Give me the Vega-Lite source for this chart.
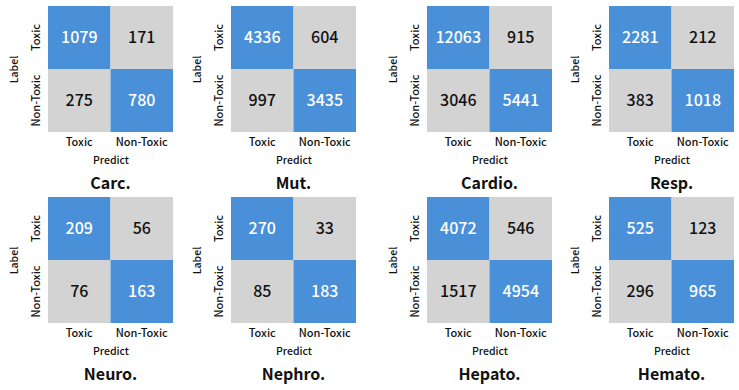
{
  "$schema": "https://vega.github.io/schema/vega-lite/v6.json",
  "padding": {"left": 9, "top": 6, "right": 4, "bottom": 4},
  "background": "white",
  "datasets": {
    "cm": [
      {"panel": "Carc.", "label": "Toxic", "predict": "Toxic", "value": 1079},
      {"panel": "Carc.", "label": "Toxic", "predict": "Non-Toxic", "value": 171},
      {"panel": "Carc.", "label": "Non-Toxic", "predict": "Toxic", "value": 275},
      {"panel": "Carc.", "label": "Non-Toxic", "predict": "Non-Toxic", "value": 780},
      {"panel": "Mut.", "label": "Toxic", "predict": "Toxic", "value": 4336},
      {"panel": "Mut.", "label": "Toxic", "predict": "Non-Toxic", "value": 604},
      {"panel": "Mut.", "label": "Non-Toxic", "predict": "Toxic", "value": 997},
      {"panel": "Mut.", "label": "Non-Toxic", "predict": "Non-Toxic", "value": 3435},
      {"panel": "Cardio.", "label": "Toxic", "predict": "Toxic", "value": 12063},
      {"panel": "Cardio.", "label": "Toxic", "predict": "Non-Toxic", "value": 915},
      {"panel": "Cardio.", "label": "Non-Toxic", "predict": "Toxic", "value": 3046},
      {"panel": "Cardio.", "label": "Non-Toxic", "predict": "Non-Toxic", "value": 5441},
      {"panel": "Resp.", "label": "Toxic", "predict": "Toxic", "value": 2281},
      {"panel": "Resp.", "label": "Toxic", "predict": "Non-Toxic", "value": 212},
      {"panel": "Resp.", "label": "Non-Toxic", "predict": "Toxic", "value": 383},
      {"panel": "Resp.", "label": "Non-Toxic", "predict": "Non-Toxic", "value": 1018},
      {"panel": "Neuro.", "label": "Toxic", "predict": "Toxic", "value": 209},
      {"panel": "Neuro.", "label": "Toxic", "predict": "Non-Toxic", "value": 56},
      {"panel": "Neuro.", "label": "Non-Toxic", "predict": "Toxic", "value": 76},
      {"panel": "Neuro.", "label": "Non-Toxic", "predict": "Non-Toxic", "value": 163},
      {"panel": "Nephro.", "label": "Toxic", "predict": "Toxic", "value": 270},
      {"panel": "Nephro.", "label": "Toxic", "predict": "Non-Toxic", "value": 33},
      {"panel": "Nephro.", "label": "Non-Toxic", "predict": "Toxic", "value": 85},
      {"panel": "Nephro.", "label": "Non-Toxic", "predict": "Non-Toxic", "value": 183},
      {"panel": "Hepato.", "label": "Toxic", "predict": "Toxic", "value": 4072},
      {"panel": "Hepato.", "label": "Toxic", "predict": "Non-Toxic", "value": 546},
      {"panel": "Hepato.", "label": "Non-Toxic", "predict": "Toxic", "value": 1517},
      {"panel": "Hepato.", "label": "Non-Toxic", "predict": "Non-Toxic", "value": 4954},
      {"panel": "Hemato.", "label": "Toxic", "predict": "Toxic", "value": 525},
      {"panel": "Hemato.", "label": "Toxic", "predict": "Non-Toxic", "value": 123},
      {"panel": "Hemato.", "label": "Non-Toxic", "predict": "Toxic", "value": 296},
      {"panel": "Hemato.", "label": "Non-Toxic", "predict": "Non-Toxic", "value": 965}
    ]
  },
  "data": {"name": "cm"},
  "vconcat": [
    {
      "hconcat": [
        {
          "hconcat": [
            {
              "width": 125, "height": 126,
              "title": "Carc.",
              "transform": [{"filter": "datum.panel === 'Carc.'"}],
              "encoding": {
                "x": {"field": "predict", "type": "nominal", "sort": ["Toxic", "Non-Toxic"], "title": "Predict"},
                "y": {"field": "label", "type": "nominal", "sort": ["Toxic", "Non-Toxic"], "title": "Label"}
              },
              "layer": [
                {"mark": "rect", "encoding": {"color": {"condition": {"test": "datum.label === datum.predict", "value": "#4a90d9"}, "value": "#d3d3d3"}}},
                {"mark": {"type": "text", "fontSize": 16, "fontWeight": 500}, "encoding": {"text": {"field": "value", "type": "quantitative", "format": "d"}, "color": {"condition": {"test": "datum.label === datum.predict", "value": "#ffffff"}, "value": "#111111"}}}
              ]
            },
            {
              "width": 125, "height": 126,
              "title": "Mut.",
              "transform": [{"filter": "datum.panel === 'Mut.'"}],
              "encoding": {
                "x": {"field": "predict", "type": "nominal", "sort": ["Toxic", "Non-Toxic"], "title": "Predict"},
                "y": {"field": "label", "type": "nominal", "sort": ["Toxic", "Non-Toxic"], "title": "Label"}
              },
              "layer": [
                {"mark": "rect", "encoding": {"color": {"condition": {"test": "datum.label === datum.predict", "value": "#4a90d9"}, "value": "#d3d3d3"}}},
                {"mark": {"type": "text", "fontSize": 16, "fontWeight": 500}, "encoding": {"text": {"field": "value", "type": "quantitative", "format": "d"}, "color": {"condition": {"test": "datum.label === datum.predict", "value": "#ffffff"}, "value": "#111111"}}}
              ]
            }
          ],
          "spacing": 19
        },
        {
          "hconcat": [
            {
              "width": 125, "height": 126,
              "title": "Cardio.",
              "transform": [{"filter": "datum.panel === 'Cardio.'"}],
              "encoding": {
                "x": {"field": "predict", "type": "nominal", "sort": ["Toxic", "Non-Toxic"], "title": "Predict"},
                "y": {"field": "label", "type": "nominal", "sort": ["Toxic", "Non-Toxic"], "title": "Label"}
              },
              "layer": [
                {"mark": "rect", "encoding": {"color": {"condition": {"test": "datum.label === datum.predict", "value": "#4a90d9"}, "value": "#d3d3d3"}}},
                {"mark": {"type": "text", "fontSize": 16, "fontWeight": 500}, "encoding": {"text": {"field": "value", "type": "quantitative", "format": "d"}, "color": {"condition": {"test": "datum.label === datum.predict", "value": "#ffffff"}, "value": "#111111"}}}
              ]
            },
            {
              "width": 125, "height": 126,
              "title": "Resp.",
              "transform": [{"filter": "datum.panel === 'Resp.'"}],
              "encoding": {
                "x": {"field": "predict", "type": "nominal", "sort": ["Toxic", "Non-Toxic"], "title": "Predict"},
                "y": {"field": "label", "type": "nominal", "sort": ["Toxic", "Non-Toxic"], "title": "Label"}
              },
              "layer": [
                {"mark": "rect", "encoding": {"color": {"condition": {"test": "datum.label === datum.predict", "value": "#4a90d9"}, "value": "#d3d3d3"}}},
                {"mark": {"type": "text", "fontSize": 16, "fontWeight": 500}, "encoding": {"text": {"field": "value", "type": "quantitative", "format": "d"}, "color": {"condition": {"test": "datum.label === datum.predict", "value": "#ffffff"}, "value": "#111111"}}}
              ]
            }
          ],
          "spacing": 18
        }
      ],
      "spacing": 32
    },
    {
      "hconcat": [
        {
          "hconcat": [
            {
              "width": 125, "height": 126,
              "title": "Neuro.",
              "transform": [{"filter": "datum.panel === 'Neuro.'"}],
              "encoding": {
                "x": {"field": "predict", "type": "nominal", "sort": ["Toxic", "Non-Toxic"], "title": "Predict"},
                "y": {"field": "label", "type": "nominal", "sort": ["Toxic", "Non-Toxic"], "title": "Label"}
              },
              "layer": [
                {"mark": "rect", "encoding": {"color": {"condition": {"test": "datum.label === datum.predict", "value": "#4a90d9"}, "value": "#d3d3d3"}}},
                {"mark": {"type": "text", "fontSize": 16, "fontWeight": 500}, "encoding": {"text": {"field": "value", "type": "quantitative", "format": "d"}, "color": {"condition": {"test": "datum.label === datum.predict", "value": "#ffffff"}, "value": "#111111"}}}
              ]
            },
            {
              "width": 125, "height": 126,
              "title": "Nephro.",
              "transform": [{"filter": "datum.panel === 'Nephro.'"}],
              "encoding": {
                "x": {"field": "predict", "type": "nominal", "sort": ["Toxic", "Non-Toxic"], "title": "Predict"},
                "y": {"field": "label", "type": "nominal", "sort": ["Toxic", "Non-Toxic"], "title": "Label"}
              },
              "layer": [
                {"mark": "rect", "encoding": {"color": {"condition": {"test": "datum.label === datum.predict", "value": "#4a90d9"}, "value": "#d3d3d3"}}},
                {"mark": {"type": "text", "fontSize": 16, "fontWeight": 500}, "encoding": {"text": {"field": "value", "type": "quantitative", "format": "d"}, "color": {"condition": {"test": "datum.label === datum.predict", "value": "#ffffff"}, "value": "#111111"}}}
              ]
            }
          ],
          "spacing": 19
        },
        {
          "hconcat": [
            {
              "width": 125, "height": 126,
              "title": "Hepato.",
              "transform": [{"filter": "datum.panel === 'Hepato.'"}],
              "encoding": {
                "x": {"field": "predict", "type": "nominal", "sort": ["Toxic", "Non-Toxic"], "title": "Predict"},
                "y": {"field": "label", "type": "nominal", "sort": ["Toxic", "Non-Toxic"], "title": "Label"}
              },
              "layer": [
                {"mark": "rect", "encoding": {"color": {"condition": {"test": "datum.label === datum.predict", "value": "#4a90d9"}, "value": "#d3d3d3"}}},
                {"mark": {"type": "text", "fontSize": 16, "fontWeight": 500}, "encoding": {"text": {"field": "value", "type": "quantitative", "format": "d"}, "color": {"condition": {"test": "datum.label === datum.predict", "value": "#ffffff"}, "value": "#111111"}}}
              ]
            },
            {
              "width": 125, "height": 126,
              "title": "Hemato.",
              "transform": [{"filter": "datum.panel === 'Hemato.'"}],
              "encoding": {
                "x": {"field": "predict", "type": "nominal", "sort": ["Toxic", "Non-Toxic"], "title": "Predict"},
                "y": {"field": "label", "type": "nominal", "sort": ["Toxic", "Non-Toxic"], "title": "Label"}
              },
              "layer": [
                {"mark": "rect", "encoding": {"color": {"condition": {"test": "datum.label === datum.predict", "value": "#4a90d9"}, "value": "#d3d3d3"}}},
                {"mark": {"type": "text", "fontSize": 16, "fontWeight": 500}, "encoding": {"text": {"field": "value", "type": "quantitative", "format": "d"}, "color": {"condition": {"test": "datum.label === datum.predict", "value": "#ffffff"}, "value": "#111111"}}}
              ]
            }
          ],
          "spacing": 18
        }
      ],
      "spacing": 32
    }
  ],
  "spacing": 5,
  "config": {
    "font": "Noto Sans CJK SC",
    "view": {"stroke": null},
    "text": {"font": "Noto Sans CJK SC"},
    "axis": {
      "domain": false,
      "ticks": false,
      "grid": false,
      "labelFont": "Noto Sans CJK SC",
      "labelFontSize": 11,
      "labelFontWeight": 500,
      "labelColor": "#111111",
      "titleFont": "Noto Sans CJK SC",
      "titleFontSize": 10.5,
      "titleFontWeight": 500,
      "titleColor": "#111111"
    },
    "axisX": {"labelAngle": 0, "labelPadding": 4, "titlePadding": 8},
    "axisY": {"labelAngle": -90, "labelPadding": 7, "titlePadding": 11},
    "title": {
      "orient": "bottom",
      "frame": "group",
      "anchor": "middle",
      "font": "Noto Sans CJK SC",
      "fontSize": 16,
      "fontWeight": "bold",
      "color": "#111111",
      "offset": 10
    }
  }
}
